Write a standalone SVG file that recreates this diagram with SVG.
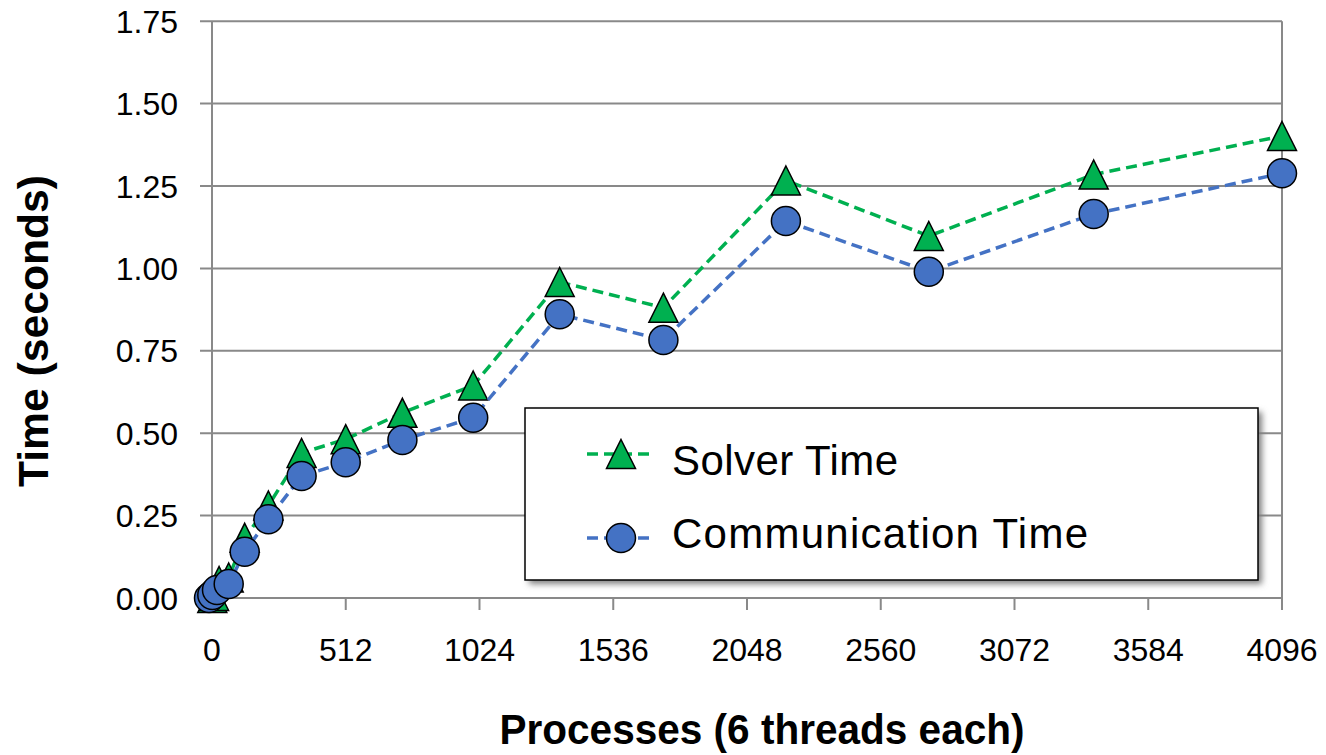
<svg xmlns="http://www.w3.org/2000/svg" xmlns:xlink="http://www.w3.org/1999/xlink" width="1326" height="755" viewBox="0 0 1326 755">
<style>
.grid{stroke:#898989;stroke-width:2;fill:none}
.lbl{font-family:"Liberation Sans",Arial,sans-serif;font-size:32px;fill:#000}
.title{font-family:"Liberation Sans",Arial,sans-serif;font-size:42px;font-weight:bold;fill:#000}
.leg{font-family:"Liberation Sans",Arial,sans-serif;font-size:42px;fill:#000}
.sg{stroke:#00B050;stroke-width:3.5;stroke-dasharray:11 6;fill:none}
.sb{stroke:#4472C4;stroke-width:3.5;stroke-dasharray:11 6;fill:none}
.tri{fill:#00B050;stroke:#000;stroke-width:1.5;stroke-linejoin:miter}
.dot{fill:#4472C4;stroke:#000;stroke-width:1.5}
</style>
<defs>
<path id="tri" d="M0,-14.5 L14.5,14.5 L-14.5,14.5 Z"/>
<circle id="dot" cx="0" cy="0" r="14.5"/>
<filter id="shadow" x="-5%" y="-10%" width="110%" height="125%">
<feGaussianBlur stdDeviation="3"/>
</filter>
</defs>
<rect width="1326" height="755" fill="#fff"/>
<g id="grid">
<path class="grid" d="M200,598H1282M200,515.6H1282M200,433.2H1282M200,350.8H1282M200,268.4H1282M200,186H1282M200,103.6H1282M200,21.2H1282"/>
<path class="grid" d="M212,21.2V610M1282,21.2V610M345.75,598V610M479.5,598V610M613.25,598V610M747,598V610M880.75,598V610M1014.5,598V610M1148.25,598V610"/>
</g>
<g id="y-labels" class="lbl" text-anchor="end">
<text x="178" y="609.5">0.00</text>
<text x="178" y="527.1">0.25</text>
<text x="178" y="444.7">0.50</text>
<text x="178" y="362.3">0.75</text>
<text x="178" y="279.9">1.00</text>
<text x="178" y="197.5">1.25</text>
<text x="178" y="115.1">1.50</text>
<text x="178" y="32.7">1.75</text>
</g>
<g id="x-labels" class="lbl" text-anchor="middle">
<text x="212" y="661">0</text>
<text x="345.75" y="661">512</text>
<text x="479.5" y="661">1024</text>
<text x="613.25" y="661">1536</text>
<text x="747" y="661">2048</text>
<text x="880.75" y="661">2560</text>
<text x="1014.5" y="661">3072</text>
<text x="1148.25" y="661">3584</text>
<text x="1282" y="661">4096</text>
</g>
<g id="axis-titles" class="title" text-anchor="middle">
<text x="762" y="744" textLength="525" lengthAdjust="spacingAndGlyphs">Processes (6 threads each)</text>
<text transform="translate(48,331) rotate(-90)" x="0" y="0" textLength="312" lengthAdjust="spacingAndGlyphs">Time (seconds)</text>
</g>
<g id="series-solver">
<polyline class="sg" points="212.3,598 214.1,596 219.1,581 228.7,577.5 244.7,537.8 268.4,505.5 301.6,453 345.7,439.2 402.4,412.8 473.2,385.5 559.7,282 663.4,307.7 785.9,180.5 928.8,236 1093.7,174.5 1282,136"/>
<g class="tri">
<use xlink:href="#tri" x="212.3" y="598"/>
<use xlink:href="#tri" x="214.1" y="596"/>
<use xlink:href="#tri" x="219.1" y="581"/>
<use xlink:href="#tri" x="228.7" y="577.5"/>
<use xlink:href="#tri" x="244.7" y="537.8"/>
<use xlink:href="#tri" x="268.4" y="505.5"/>
<use xlink:href="#tri" x="301.6" y="453"/>
<use xlink:href="#tri" x="345.7" y="439.2"/>
<use xlink:href="#tri" x="402.4" y="412.8"/>
<use xlink:href="#tri" x="473.2" y="385.5"/>
<use xlink:href="#tri" x="559.7" y="282"/>
<use xlink:href="#tri" x="663.4" y="307.7"/>
<use xlink:href="#tri" x="785.9" y="180.5"/>
<use xlink:href="#tri" x="928.8" y="236"/>
<use xlink:href="#tri" x="1093.7" y="174.5"/>
<use xlink:href="#tri" x="1282" y="136"/>
</g>
</g>
<g id="series-comm">
<polyline class="sb" points="212.3,598 214.1,595.5 219.1,590 228.7,584 244.7,551.7 268.4,519.3 301.6,476 345.7,462.3 402.4,440 473.2,417.7 559.7,314.3 663.4,340 785.9,221 928.8,271.7 1093.7,214 1282,173.3"/>
<g class="dot">
<use xlink:href="#dot" x="209" y="598"/>
<use xlink:href="#dot" x="212.3" y="595"/>
<use xlink:href="#dot" x="217" y="590"/>
<use xlink:href="#dot" x="228.7" y="584"/>
<use xlink:href="#dot" x="244.7" y="551.7"/>
<use xlink:href="#dot" x="268.4" y="519.3"/>
<use xlink:href="#dot" x="301.6" y="476"/>
<use xlink:href="#dot" x="345.7" y="462.3"/>
<use xlink:href="#dot" x="402.4" y="440"/>
<use xlink:href="#dot" x="473.2" y="417.7"/>
<use xlink:href="#dot" x="559.7" y="314.3"/>
<use xlink:href="#dot" x="663.4" y="340"/>
<use xlink:href="#dot" x="785.9" y="221"/>
<use xlink:href="#dot" x="928.8" y="271.7"/>
<use xlink:href="#dot" x="1093.7" y="214"/>
<use xlink:href="#dot" x="1282" y="173.3"/>
</g>
</g>
<g id="legend">
<rect x="529" y="412" width="733" height="172" fill="#7f7f7f" filter="url(#shadow)"/>
<rect x="525" y="408" width="733" height="172" fill="#fff" stroke="#000" stroke-width="1.5"/>
<line class="sg" x1="587" y1="454" x2="653" y2="454"/>
<use class="tri" xlink:href="#tri" x="621" y="454"/>
<text class="leg" x="672" y="475" textLength="226" lengthAdjust="spacing">Solver Time</text>
<line class="sb" x1="587" y1="538" x2="653" y2="538"/>
<use class="dot" xlink:href="#dot" x="621" y="538"/>
<text class="leg" x="672" y="548" textLength="416" lengthAdjust="spacing">Communication Time</text>
</g>
</svg>
